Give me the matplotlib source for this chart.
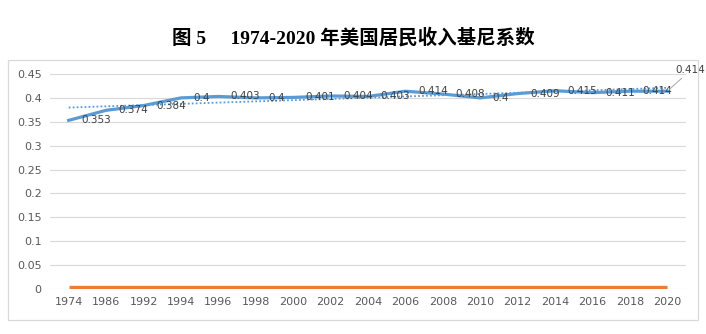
import numpy as np
import matplotlib.pyplot as plt
from matplotlib.patches import Rectangle

plt.rcParams['font.family'] = ['Noto Sans CJK SC', 'DejaVu Sans']

# 美国居民收入基尼系数
years = ['1974', '1986', '1992', '1994', '1996', '1998', '2000', '2002', '2004',
         '2006', '2008', '2010', '2012', '2014', '2016', '2018', '2020']
gini = [0.353, 0.374, 0.384, 0.4, 0.403, 0.4, 0.401, 0.404, 0.403,
        0.414, 0.408, 0.4, 0.409, 0.415, 0.411, 0.414, 0.414]
second = [0.004, 0.004, 0.004, 0.004, 0.004, 0.004, 0.004, 0.004, 0.004,
          0.004, 0.004, 0.004, 0.004, 0.004, 0.004, 0.004, 0.004]
yticks = [0, 0.05, 0.1, 0.15, 0.2, 0.25, 0.3, 0.35, 0.4, 0.45]

blue = '#5B9BD5'
orange = '#ED7D31'
grid = '#D9D9D9'
txt = '#595959'

fig = plt.figure(figsize=(7.06, 3.34), dpi=100)
fig.patch.set_facecolor('white')

# chart frame
fig.patches.append(Rectangle((8 / 706, 1 - 320 / 334), 690 / 706, 260 / 334,
                             transform=fig.transFigure, fill=False,
                             edgecolor=grid, lw=0.9))

fig.text(0.5, 1 - 38 / 334, '图 5     1974-2020 年美国居民收入基尼系数',
         ha='center', va='center', fontsize=14, fontweight='bold', color='black',
         family=['Liberation Serif', 'Noto Sans CJK SC'])

ax = fig.add_axes([50 / 706, 1 - 289 / 334, 636 / 706, 215 / 334])
x = np.arange(len(years))

ax.plot(x, second, color=orange, lw=2.4, solid_capstyle='butt', zorder=3)
ax.plot(x, gini, color=blue, lw=2.3, solid_joinstyle='round', zorder=4)

k, b = np.polyfit(x, gini, 1)
ax.plot(x, k * x + b, color=blue, lw=1.3, ls=(0, (1, 1.2)), zorder=3)

for i, v in enumerate(gini[:-1]):
    ax.annotate(f'{v:g}', (i, v), xytext=(9, 0), textcoords='offset points',
                ha='left', va='center', fontsize=7.5, color='#404040',
                family='DejaVu Sans', zorder=5)
ax.annotate(f'{gini[-1]:g}', (x[-1], gini[-1]), xytext=(6, 15),
            textcoords='offset points', ha='left', va='center', fontsize=7.5,
            color='#404040', family='DejaVu Sans', zorder=5,
            arrowprops=dict(arrowstyle='-', color='#A6A6A6', lw=0.7,
                            shrinkA=0, shrinkB=2))

ax.set_xlim(-0.5, len(years) - 0.5)
ax.set_ylim(0, 0.45)
ax.set_yticks(yticks)
ax.set_yticklabels([f'{t:g}' for t in yticks])
ax.set_xticks(x)
ax.set_xticklabels(years)
ax.yaxis.grid(True, color=grid, lw=0.8)
ax.set_axisbelow(True)
for s in ax.spines.values():
    s.set_visible(False)
ax.tick_params(length=0, labelsize=8, labelcolor=txt, pad=6)
for lab in ax.get_xticklabels() + ax.get_yticklabels():
    lab.set_family('DejaVu Sans')

fig.savefig('out.png', dpi=100)
